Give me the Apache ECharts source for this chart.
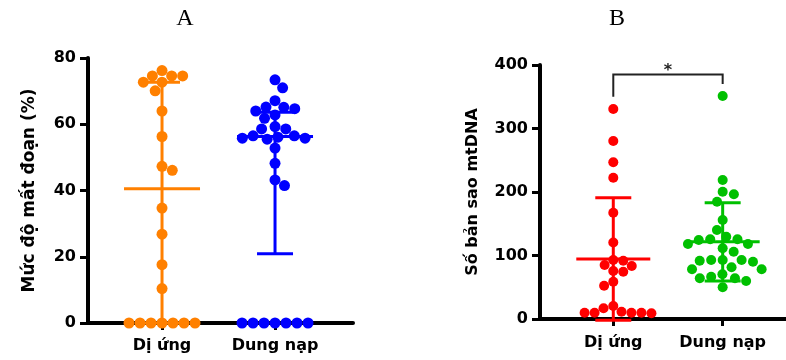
<!DOCTYPE html>
<html>
<head>
<meta charset="utf-8">
<script src="https://cdn.jsdelivr.net/npm/echarts@6/dist/echarts.min.js"></script>
<style>
  html, body { margin: 0; padding: 0; background: #fff; }
  #chart { width: 786px; height: 360px; }
</style>
</head>
<body>
<div id="chart"></div>
<script>
const categories = ["Dị ứng", "Dung nạp"];

// A: Mức độ mất đoạn (%)
const lossAllergy = [76.2, 74.6, 74.6, 74.6, 72.7, 72.7, 70.1, 64.0, 56.3, 47.3, 46.1, 34.7, 26.8, 17.6, 10.4, 0, 0, 0, 0, 0, 0, 0];
const lossTolerant = [73.4, 71.0, 67.1, 65.2, 65.1, 64.7, 64.0, 62.8, 61.8, 59.3, 58.6, 58.6, 56.5, 56.5, 56.1, 55.8, 55.8, 55.5, 52.8, 48.2, 43.2, 41.5, 0, 0, 0, 0, 0, 0, 0];
const lossMean = [40.5, 56.3];
const lossSdHigh = [72.7, 63.6];
const lossSdLow = [0, 20.9];

// B: Số bản sao mtDNA
const copyAllergy = [330.7, 280.3, 246.8, 222.5, 167.4, 120.5, 92.9, 91.8, 85.0, 83.5, 75.6, 74.5, 58.7, 52.4, 20.5, 16.9, 11.5, 9.9, 9.9, 9.9, 9.9, 9.0];
const copyTolerant = [351.2, 218.9, 200.5, 196.4, 184.7, 155.9, 140.2, 129.6, 125.5, 125.5, 124.4, 118.1, 118.1, 111.3, 106.0, 92.9, 92.9, 92.9, 91.8, 90.2, 81.4, 78.3, 78.3, 70.4, 66.6, 64.1, 64.1, 59.8, 49.9];
const copyMean = [94.5, 121.7];
const copySdHigh = [191, 183];
const copySdLow = [-2, 60];

// significance bracket between the two groups of B: [from, to, top, leftEnd, rightEnd]
const bracketB = [0, 1, 385, 350, 370];
const bracketLabel = "*";

const lossTicks = { min: 0, max: 80, interval: 20 };
const copyTicks = { min: 0, max: 400, interval: 100 };

const colorsA = ["#FF8000", "#0000FF"];
const colorsB = ["#FF0000", "#00C000"];
const FONT = "DejaVu Sans";

const chart = echarts.init(document.getElementById("chart"), null, { renderer: "canvas" });

function xAxisFor(grid, min, max, margin) {
  return {
    type: "value", gridIndex: grid, min: min, max: max,
    splitLine: { show: false },
    axisLine: { show: true, onZero: false, lineStyle: { color: "#000", width: 4 } },
    axisTick: { show: true, customValues: [0, 1], length: 7, lineStyle: { color: "#000", width: 3 } },
    axisLabel: {
      customValues: [0, 1], margin: margin,
      formatter: (v) => categories[Math.round(v)],
      color: "#000", fontFamily: FONT, fontWeight: "bold", fontSize: 16
    }
  };
}

function yAxisFor(grid, ticks, name, nameGap, nameSize) {
  return {
    type: "value", gridIndex: grid, min: ticks.min, max: ticks.max, interval: ticks.interval,
    name: name, nameLocation: "middle", nameRotate: 90, nameGap: nameGap,
    nameTextStyle: { color: "#000", fontFamily: FONT, fontWeight: "bold", fontSize: nameSize },
    splitLine: { show: false },
    axisLine: { show: true, onZero: false, lineStyle: { color: "#000", width: 4 } },
    axisTick: { show: true, length: 8, lineStyle: { color: "#000", width: 3 } },
    axisLabel: { margin: 12, color: "#000", fontFamily: FONT, fontWeight: "bold", fontSize: 16 }
  };
}

function errorBars(colors, meanHalf, capHalf) {
  return function (params, api) {
    const cat = api.value(0);
    const m = api.coord([cat, api.value(1)]);
    const hi = api.coord([cat, api.value(2)]);
    const lo = api.coord([cat, api.value(3)]);
    const style = { stroke: colors[params.dataIndex], lineWidth: 3 };
    const seg = (x1, y1, x2, y2) => ({ type: "line", shape: { x1, y1, x2, y2 }, style });
    return {
      type: "group",
      children: [
        seg(hi[0], hi[1], lo[0], lo[1]),
        seg(hi[0] - capHalf, hi[1], hi[0] + capHalf, hi[1]),
        seg(lo[0] - capHalf, lo[1], lo[0] + capHalf, lo[1]),
        seg(m[0] - meanHalf, m[1], m[0] + meanHalf, m[1])
      ]
    };
  };
}

function bracketRenderer(params, api) {
  const a = api.coord([api.value(0), api.value(2)]);
  const b = api.coord([api.value(1), api.value(2)]);
  const aEnd = api.coord([api.value(0), api.value(3)]);
  const bEnd = api.coord([api.value(1), api.value(4)]);
  return {
    type: "group",
    children: [
      {
        type: "polyline",
        shape: { points: [[aEnd[0], aEnd[1]], [a[0], a[1]], [b[0], b[1]], [bEnd[0], bEnd[1]]] },
        style: { stroke: "#222", lineWidth: 2, fill: null }
      },
      {
        type: "text", x: (a[0] + b[0]) / 2, y: a[1] - 4,
        style: { text: bracketLabel, fill: "#222", font: "bold 16px " + FONT, align: "center", verticalAlign: "middle" }
      }
    ]
  };
}

function dots(values, cat) {
  return values.map((v) => [cat, v]);
}

const option = {
  animation: false,
  backgroundColor: "#fff",
  title: [
    { text: "A", left: 180, top: 2, textAlign: "center",
      textStyle: { fontFamily: "Liberation Serif", fontWeight: "normal", fontSize: 24, color: "#000" } },
    { text: "B", left: 612, top: 2, textAlign: "center",
      textStyle: { fontFamily: "Liberation Serif", fontWeight: "normal", fontSize: 24, color: "#000" } }
  ],
  grid: [
    { left: 88, top: 58, width: 265, height: 265 },
    { left: 540, top: 65, width: 246, height: 254 }
  ],
  xAxis: [xAxisFor(0, -0.655, 1.69, 15), xAxisFor(1, -0.67, 1.579, 16)],
  yAxis: [
    yAxisFor(0, lossTicks, "Mức độ mất đoạn (%)", 50, 17),
    yAxisFor(1, copyTicks, "Số bản sao mtDNA", 59, 16)
  ],
  series: [
    { type: "scatter", xAxisIndex: 0, yAxisIndex: 0, symbolSize: 11, itemStyle: { color: colorsA[0], opacity: 1 }, data: dots(lossAllergy, 0) },
    { type: "scatter", xAxisIndex: 0, yAxisIndex: 0, symbolSize: 11, itemStyle: { color: colorsA[1], opacity: 1 }, data: dots(lossTolerant, 1) },
    { type: "custom", xAxisIndex: 0, yAxisIndex: 0, clip: false, z: 5, renderItem: errorBars(colorsA, 38, 18),
      data: categories.map((c, i) => [i, lossMean[i], lossSdHigh[i], lossSdLow[i]]) },
    { type: "scatter", xAxisIndex: 1, yAxisIndex: 1, symbolSize: 10, itemStyle: { color: colorsB[0], opacity: 1 }, data: dots(copyAllergy, 0) },
    { type: "scatter", xAxisIndex: 1, yAxisIndex: 1, symbolSize: 10, itemStyle: { color: colorsB[1], opacity: 1 }, data: dots(copyTolerant, 1) },
    { type: "custom", xAxisIndex: 1, yAxisIndex: 1, clip: false, z: 5, renderItem: errorBars(colorsB, 37, 18),
      data: categories.map((c, i) => [i, copyMean[i], copySdHigh[i], copySdLow[i]]) },
    { type: "custom", xAxisIndex: 1, yAxisIndex: 1, clip: false, renderItem: bracketRenderer, data: [bracketB] }
  ]
};

chart.setOption(option);

// beeswarm: spread points sideways so that dots of diameter d don't overlap
function swarm(values, cat, grid, d) {
  const finder = { gridIndex: grid };
  const pxPerCat = chart.convertToPixel(finder, [1, 0])[0] - chart.convertToPixel(finder, [0, 0])[0];
  const order = values.map((v, i) => i).sort((a, b) => values[b] - values[a]);
  const placed = [];
  const out = new Array(values.length);
  let sum = 0;
  order.forEach((i) => {
    const y = chart.convertToPixel(finder, [0, values[i]])[1];
    const cands = [0];
    placed.forEach((p) => {
      const dy = Math.abs(p.y - y);
      if (dy < d) {
        const dx = Math.sqrt(d * d - dy * dy);
        cands.push(p.x - dx, p.x + dx);
      }
    });
    const ok = cands.filter((x) => placed.every((p) => (p.x - x) ** 2 + (p.y - y) ** 2 >= d * d - 0.01));
    ok.sort((a, b) => (Math.abs(a) - Math.abs(b)) || (sum > 0 ? a - b : b - a));
    const x = ok[0];
    placed.push({ x, y });
    sum += x;
    out[i] = [cat + x / pxPerCat, values[i]];
  });
  return out;
}

chart.setOption({
  series: [
    { data: swarm(lossAllergy, 0, 0, 11) },
    { data: swarm(lossTolerant, 1, 0, 11) },
    {},
    { data: swarm(copyAllergy, 0, 1, 10) },
    { data: swarm(copyTolerant, 1, 1, 11.5) },
    {},
    {}
  ]
});
</script>
</body>
</html>
